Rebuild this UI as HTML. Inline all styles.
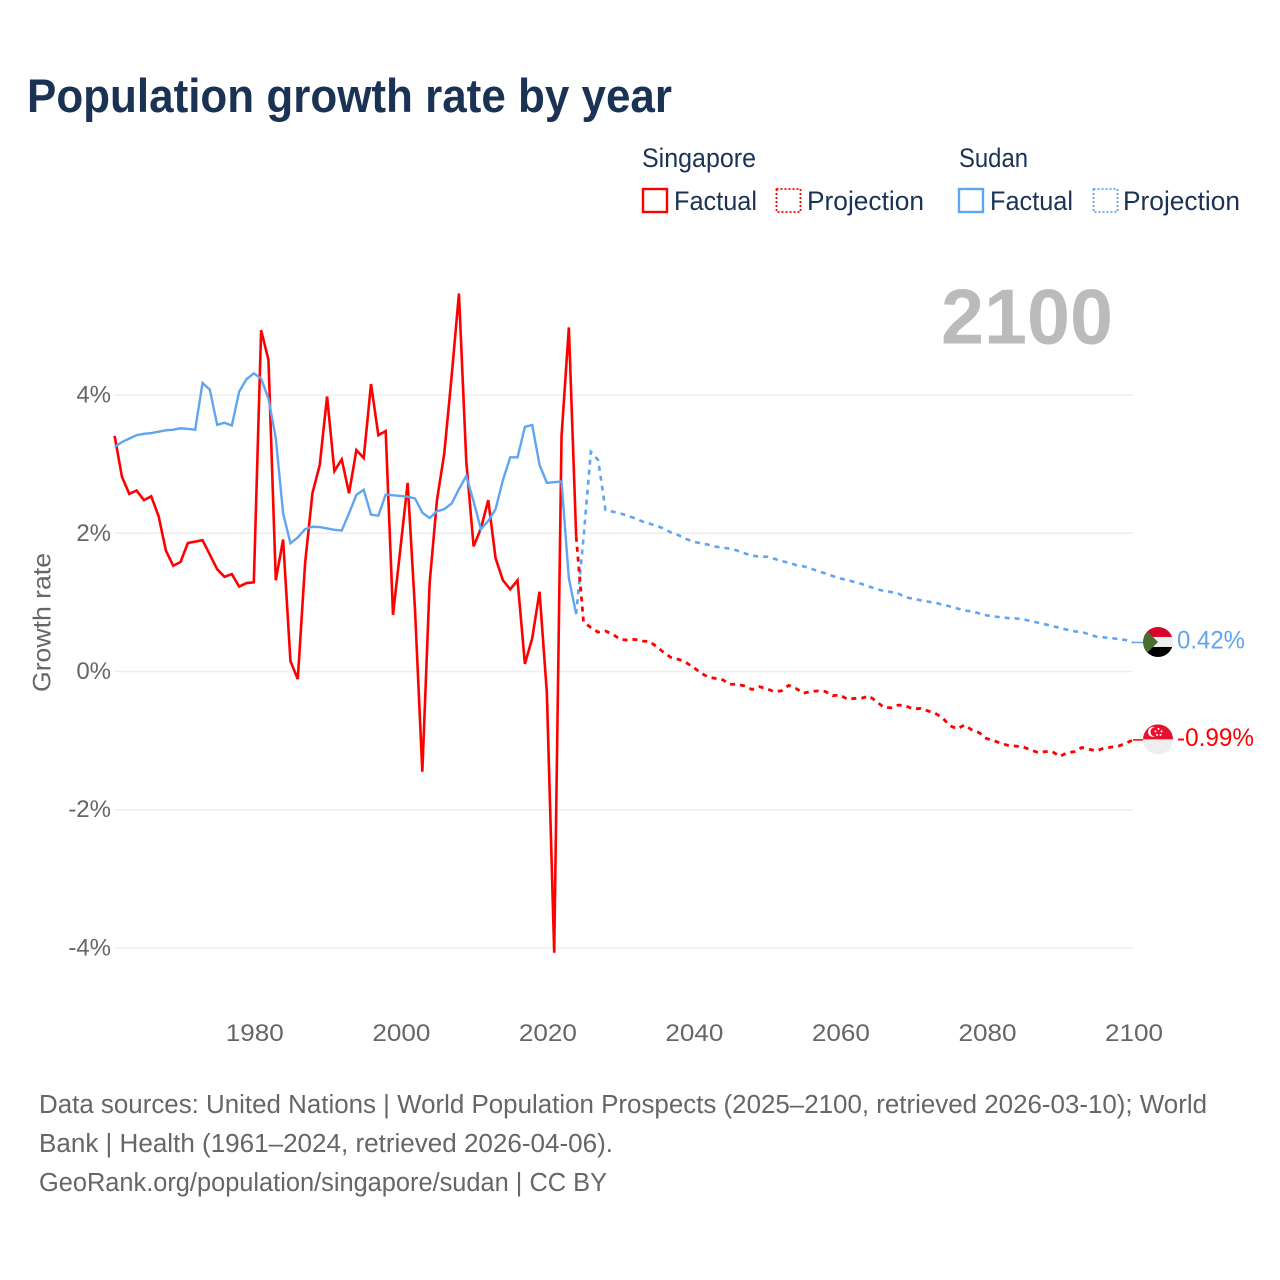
<!DOCTYPE html>
<html lang="en">
<head>
<meta charset="utf-8">
<title>Population growth rate by year</title>
<style>
html,body{margin:0;padding:0;background:#fff;}
svg{display:block;}
text{font-family:"Liberation Sans",sans-serif;}
</style>
</head>
<body>
<svg id="chart" xmlns="http://www.w3.org/2000/svg" width="1280" height="1280" viewBox="0 0 1280 1280">
  <rect x="0" y="0" width="1280" height="1280" fill="#ffffff"/>
  <text x="27" y="112" font-size="47" font-weight="700" fill="#1a3355" textLength="645" lengthAdjust="spacingAndGlyphs">Population growth rate by year</text>

  <g font-size="26.5" fill="#1a3355">
    <text x="642" y="167" textLength="114" lengthAdjust="spacingAndGlyphs">Singapore</text>
    <text x="959" y="167" textLength="69" lengthAdjust="spacingAndGlyphs">Sudan</text>
    <g>
      <rect x="643" y="189" width="24" height="23" fill="none" stroke="#ff0000" stroke-width="2.4"/>
      <text x="674" y="210" textLength="83" lengthAdjust="spacingAndGlyphs">Factual</text>
    </g>
    <g>
      <rect x="776.5" y="189" width="24" height="23" fill="none" stroke="#ff0000" stroke-width="1.8" stroke-dasharray="2 2"/>
      <text x="807" y="210" textLength="117" lengthAdjust="spacingAndGlyphs">Projection</text>
    </g>
    <g>
      <rect x="959" y="189" width="24" height="23" fill="none" stroke="#60a5f0" stroke-width="2.4"/>
      <text x="990" y="210" textLength="83" lengthAdjust="spacingAndGlyphs">Factual</text>
    </g>
    <g>
      <rect x="1093.5" y="189" width="24" height="23" fill="none" stroke="#60a5f0" stroke-width="1.8" stroke-dasharray="2 2"/>
      <text x="1123" y="210" textLength="117" lengthAdjust="spacingAndGlyphs">Projection</text>
    </g>
  </g>

  <text x="941" y="343.5" font-size="78" font-weight="700" fill="#bbbbbb" textLength="172" lengthAdjust="spacingAndGlyphs">2100</text>

  <g id="grid"></g>
  <g id="yTicks"></g>
  <g id="xTicks"></g>
  <text transform="translate(50.5,622.5) rotate(-90)" text-anchor="middle" font-size="25" fill="#666666" textLength="139" lengthAdjust="spacingAndGlyphs">Growth rate</text>
  <g id="series"></g>

  <g id="sudanEnd">
    <line id="sudanLeader" stroke="#60a5f0" stroke-width="1.5"/>
    <g id="sudanFlag">
      <clipPath id="clipSudan"><circle cx="0" cy="0" r="15"/></clipPath>
      <g clip-path="url(#clipSudan)">
        <rect x="-15" y="-15" width="30" height="10" fill="#d9042b"/>
        <rect x="-15" y="-5" width="30" height="10" fill="#eeeeee"/>
        <rect x="-15" y="5" width="30" height="10" fill="#000000"/>
        <polygon points="-15,-15 0,0 -15,15" fill="#496e2d"/>
      </g>
    </g>
    <text id="sudanValue" font-size="25" fill="#60a5f0" textLength="68" lengthAdjust="spacingAndGlyphs"></text>
  </g>

  <g id="singaporeEnd">
    <line id="singaporeLeader" stroke="#ff0000" stroke-width="1.5"/>
    <g id="singaporeFlag">
      <clipPath id="clipSingapore"><circle cx="0" cy="0" r="15"/></clipPath>
      <g clip-path="url(#clipSingapore)">
        <rect x="-15" y="-15" width="30" height="15" fill="#e8112d"/>
        <rect x="-15" y="0" width="30" height="15" fill="#eeeeee"/>
        <circle cx="-5" cy="-7.5" r="5" fill="#ffffff"/>
        <circle cx="-3" cy="-7.5" r="4.6" fill="#e8112d"/>
        <circle cx="0.5" cy="-10.5" r="1" fill="#ffffff"/>
        <circle cx="-2.5" cy="-8" r="1" fill="#ffffff"/>
        <circle cx="3.5" cy="-8" r="1" fill="#ffffff"/>
        <circle cx="-1" cy="-4.5" r="1" fill="#ffffff"/>
        <circle cx="2.5" cy="-4.5" r="1" fill="#ffffff"/>
      </g>
    </g>
    <text id="singaporeValue" font-size="25" fill="#ff0000" textLength="77" lengthAdjust="spacingAndGlyphs"></text>
  </g>

  <g font-size="25.5" fill="#666666">
    <text x="39" y="1113" textLength="1168" lengthAdjust="spacingAndGlyphs">Data sources: United Nations | World Population Prospects (2025–2100, retrieved 2026-03-10); World</text>
    <text x="39" y="1152" textLength="574" lengthAdjust="spacingAndGlyphs">Bank | Health (1961–2024, retrieved 2026-04-06).</text>
    <text x="39" y="1191" textLength="568" lengthAdjust="spacingAndGlyphs">GeoRank.org/population/singapore/sudan | CC BY</text>
  </g>
</svg>

<script>
const xTickYears = [1980, 2000, 2020, 2040, 2060, 2080, 2100];
const yTickValues = [4, 2, 0, -2, -4];

const factualYears = [1961,1962,1963,1964,1965,1966,1967,1968,1969,1970,
  1971,1972,1973,1974,1975,1976,1977,1978,1979,1980,
  1981,1982,1983,1984,1985,1986,1987,1988,1989,1990,
  1991,1992,1993,1994,1995,1996,1997,1998,1999,2000,
  2001,2002,2003,2004,2005,2006,2007,2008,2009,2010,
  2011,2012,2013,2014,2015,2016,2017,2018,2019,2020,
  2021,2022,2023,2024];

const projectionYears = [2024,2025,2026,2027,2028,2029,2030,
  2031,2032,2033,2034,2035,2036,2037,2038,2039,2040,
  2041,2042,2043,2044,2045,2046,2047,2048,2049,2050,
  2051,2052,2053,2054,2055,2056,2057,2058,2059,2060,
  2061,2062,2063,2064,2065,2066,2067,2068,2069,2070,
  2071,2072,2073,2074,2075,2076,2077,2078,2079,2080,
  2081,2082,2083,2084,2085,2086,2087,2088,2089,2090,
  2091,2092,2093,2094,2095,2096,2097,2098,2099,2100];

const singaporeFactual = [3.41,2.82,2.57,2.62,2.48,2.535,2.25,1.75,1.53,1.585,
  1.86,1.88,1.90,1.69,1.48,1.37,1.41,1.23,1.28,1.29,
  4.94,4.51,1.32,1.91,0.15,-0.11,1.565,2.58,2.99,3.98,
  2.90,3.07,2.58,3.205,3.09,4.16,3.42,3.48,0.82,1.77,
  2.73,0.9,-1.45,1.28,2.48,3.16,4.27,5.47,3.04,1.81,
  2.07,2.48,1.64,1.32,1.19,1.32,0.11,0.48,1.155,-0.31,
  -4.07,3.40,4.98,1.95];

const singaporeProjection = [1.95,0.72,0.635,0.57,0.585,0.54,0.465,
  0.455,0.465,0.44,0.435,0.36,0.27,0.2,0.175,0.13,0.06,
  -0.02,-0.08,-0.10,-0.12,-0.185,-0.185,-0.21,-0.26,-0.22,-0.25,
  -0.29,-0.28,-0.2,-0.245,-0.315,-0.29,-0.28,-0.29,-0.35,-0.34,
  -0.40,-0.39,-0.385,-0.355,-0.435,-0.52,-0.525,-0.485,-0.5,-0.54,
  -0.535,-0.57,-0.605,-0.67,-0.785,-0.83,-0.775,-0.845,-0.885,-0.97,
  -1.0,-1.04,-1.07,-1.08,-1.09,-1.135,-1.17,-1.16,-1.16,-1.23,
  -1.175,-1.16,-1.10,-1.125,-1.15,-1.11,-1.095,-1.08,-1.04,-0.99];

const sudanFactual = [3.25,3.32,3.37,3.42,3.44,3.45,3.47,3.49,3.50,3.52,
  3.51,3.50,4.175,4.08,3.57,3.60,3.56,4.05,4.23,4.315,
  4.24,3.95,3.375,2.29,1.855,1.94,2.06,2.095,2.09,2.07,
  2.05,2.04,2.29,2.555,2.63,2.27,2.255,2.56,2.55,2.54,
  2.53,2.505,2.30,2.22,2.32,2.35,2.43,2.64,2.83,2.46,
  2.06,2.18,2.35,2.77,3.10,3.10,3.54,3.567,2.99,2.73,
  2.74,2.75,1.35,0.83];

const sudanProjection = [0.83,1.93,3.18,3.06,2.337,2.313,2.289,
  2.255,2.217,2.173,2.14,2.106,2.067,2.009,1.971,1.918,1.879,
  1.855,1.836,1.807,1.792,1.778,1.749,1.71,1.676,1.662,1.662,
  1.633,1.599,1.575,1.541,1.522,1.493,1.45,1.421,1.382,1.348,
  1.324,1.295,1.266,1.228,1.194,1.165,1.15,1.126,1.073,1.054,
  1.03,1.011,0.996,0.967,0.943,0.914,0.88,0.871,0.842,0.813,
  0.798,0.784,0.774,0.769,0.755,0.731,0.707,0.683,0.658,0.63,
  0.605,0.581,0.572,0.538,0.504,0.494,0.485,0.47,0.456,0.42];

const SVG_NS = 'http://www.w3.org/2000/svg';
const xMinYear = 1961, xMaxYear = 2100, plotLeft = 114.6, plotRight = 1133;
const yZero = 671.5, pxPerPercent = 69.1;

function xScale(year) {
  return plotLeft + (year - xMinYear) * (plotRight - plotLeft) / (xMaxYear - xMinYear);
}
function yScale(value) {
  return yZero - value * pxPerPercent;
}
function svgEl(tag, parent) {
  const el = document.createElementNS(SVG_NS, tag);
  parent.appendChild(el);
  return el;
}
function formatPercent(value) {
  return value + '%';
}

const gridGroup = document.getElementById('grid');
const yTickGroup = document.getElementById('yTicks');
yTickValues.forEach(function (value) {
  const line = svgEl('line', gridGroup);
  
  
  line.setAttribute('x1', plotLeft);
  line.setAttribute('x2', plotRight);
  line.setAttribute('y1', yScale(value));
  line.setAttribute('y2', yScale(value));
  line.setAttribute('stroke', '#eeeeee');
  line.setAttribute('stroke-width', '1.5');

  const label = svgEl('text', yTickGroup);
  
  
  label.setAttribute('x', 111);
  label.setAttribute('y', yScale(value) + 7.5);
  label.setAttribute('text-anchor', 'end');
  label.setAttribute('font-size', '24');
  label.setAttribute('fill', '#666666');
  label.textContent = formatPercent(value);
});

const xTickGroup = document.getElementById('xTicks');
xTickYears.forEach(function (year) {
  const label = svgEl('text', xTickGroup);
  
  
  label.setAttribute('x', xScale(year) + 1);
  label.setAttribute('y', 1041);
  label.setAttribute('text-anchor', 'middle');
  label.setAttribute('font-size', '24');
  label.setAttribute('fill', '#666666');
  label.setAttribute('textLength', '58');
  label.setAttribute('lengthAdjust', 'spacingAndGlyphs');
  label.textContent = year;
});

function buildPoints(years, values) {
  return values.map(function (value, i) {
    return xScale(years[i]).toFixed(2) + ',' + yScale(value).toFixed(2);
  }).join(' ');
}

const seriesGroup = document.getElementById('series');

const lineSingaporeFactual = svgEl('polyline', seriesGroup);


lineSingaporeFactual.setAttribute('points', buildPoints(factualYears, singaporeFactual));
lineSingaporeFactual.setAttribute('fill', 'none');
lineSingaporeFactual.setAttribute('stroke', '#ff0000');
lineSingaporeFactual.setAttribute('stroke-width', '2.6');
lineSingaporeFactual.setAttribute('stroke-linejoin', 'miter');

const lineSudanFactual = svgEl('polyline', seriesGroup);


lineSudanFactual.setAttribute('points', buildPoints(factualYears, sudanFactual));
lineSudanFactual.setAttribute('fill', 'none');
lineSudanFactual.setAttribute('stroke', '#60a5f0');
lineSudanFactual.setAttribute('stroke-width', '2.4');

const lineSudanProjection = svgEl('polyline', seriesGroup);


lineSudanProjection.setAttribute('points', buildPoints(projectionYears, sudanProjection));
lineSudanProjection.setAttribute('fill', 'none');
lineSudanProjection.setAttribute('stroke', '#60a5f0');
lineSudanProjection.setAttribute('stroke-width', '2.6');
lineSudanProjection.setAttribute('stroke-dasharray', '5 5');

const lineSingaporeProjection = svgEl('polyline', seriesGroup);


lineSingaporeProjection.setAttribute('points', buildPoints(projectionYears, singaporeProjection));
lineSingaporeProjection.setAttribute('fill', 'none');
lineSingaporeProjection.setAttribute('stroke', '#ff0000');
lineSingaporeProjection.setAttribute('stroke-width', '2.8');
lineSingaporeProjection.setAttribute('stroke-dasharray', '5 5');

function placeEndMarker(prefix, values, baselineOffset) {
  const last = values[values.length - 1];
  const y = yScale(last);
  const leader = document.getElementById(prefix + 'Leader');
  leader.setAttribute('x1', plotRight);
  leader.setAttribute('x2', 1143);
  leader.setAttribute('y1', y);
  leader.setAttribute('y2', y);
  document.getElementById(prefix + 'Flag').setAttribute('transform', 'translate(1158,' + (y - 0.5) + ')');
  const label = document.getElementById(prefix + 'Value');
  label.setAttribute('x', 1177);
  label.setAttribute('y', y + baselineOffset);
  label.textContent = formatPercent(last);
}
placeEndMarker('sudan', sudanProjection, 6);
placeEndMarker('singapore', singaporeProjection, 6);
</script>
</body>
</html>
